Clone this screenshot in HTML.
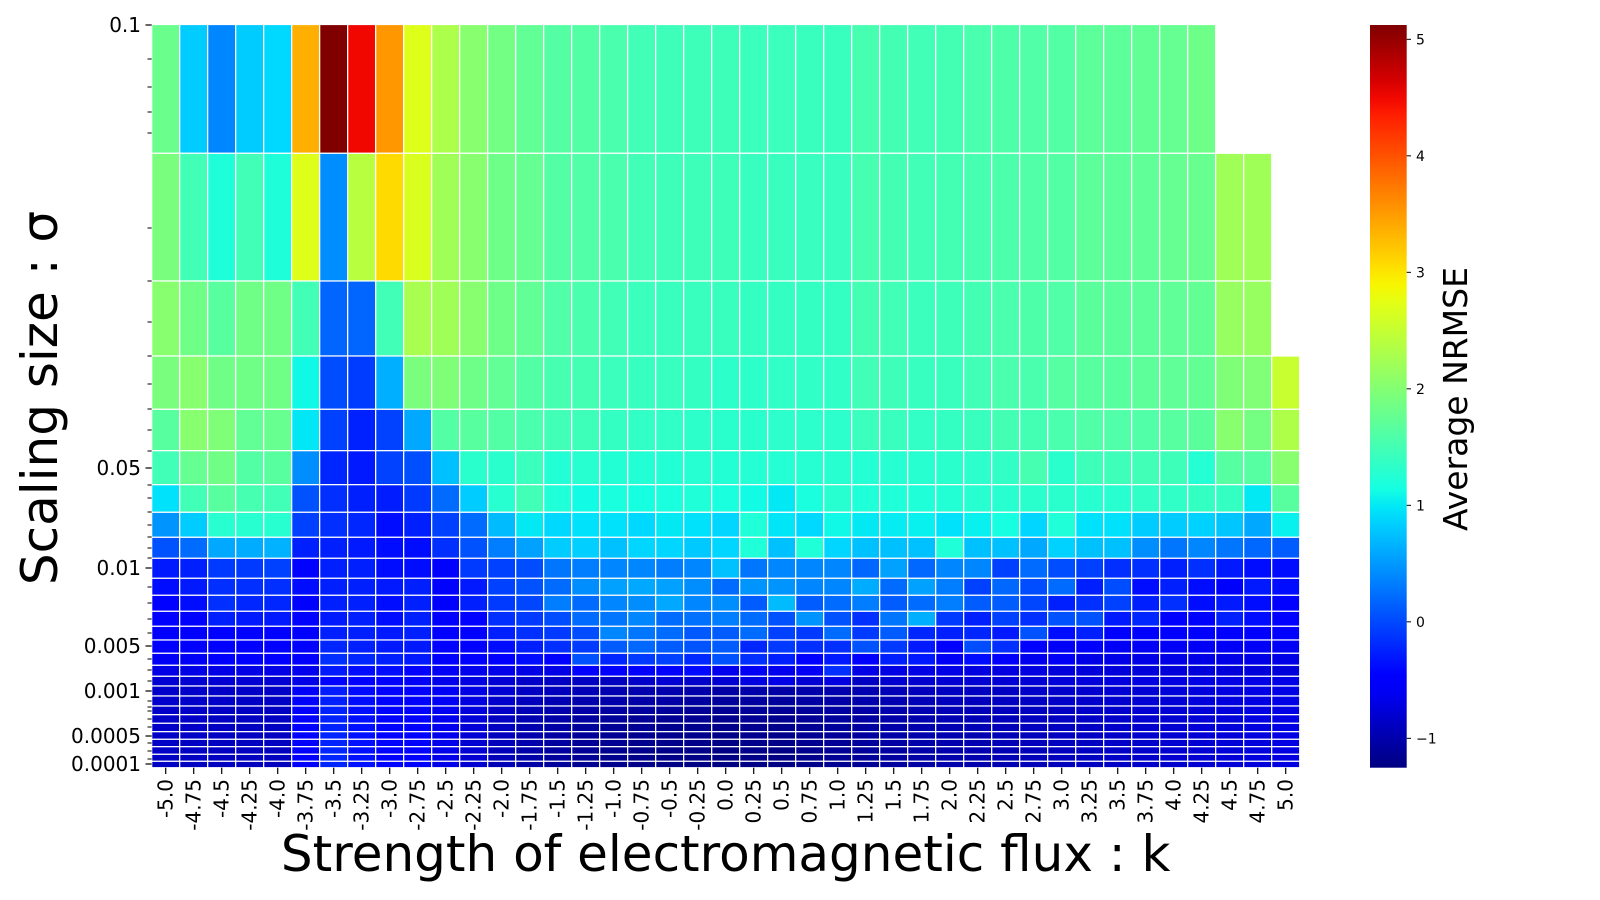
<!DOCTYPE html>
<html><head><meta charset="utf-8">
<style>
html,body{margin:0;padding:0;background:#fff;}
svg{display:block;font-family:"DejaVu Sans","Liberation Sans",sans-serif;}
</style></head>
<body>
<svg id="chart" width="1600" height="900" viewBox="0 0 1600 900" xmlns="http://www.w3.org/2000/svg">
<g id="cells"></g>
<g id="yaxis"></g>
<g id="xaxis"></g>
<defs><linearGradient id="jetgrad" x1="0" y1="1" x2="0" y2="0"></linearGradient></defs>
<rect x="1370" y="25" width="36.7" height="742.7" fill="url(#jetgrad)"/>
<g id="cbaxis"></g>
<text x="725.7" y="871" font-size="50" text-anchor="middle" fill="#000">Strength of electromagnetic flux : k</text>
<text transform="translate(57,398) rotate(-90)" font-size="50" text-anchor="middle" fill="#000">Scaling size : σ</text>
<text transform="translate(1467,399) rotate(-90)" font-size="33" text-anchor="middle" fill="#000">Average NRMSE</text>
</svg>
<script>
const kLabels = ["-5.0","-4.75","-4.5","-4.25","-4.0","-3.75","-3.5","-3.25","-3.0","-2.75","-2.5","-2.25","-2.0","-1.75","-1.5","-1.25","-1.0","-0.75","-0.5","-0.25","0.0","0.25","0.5","0.75","1.0","1.25","1.5","1.75","2.0","2.25","2.5","2.75","3.0","3.25","3.5","3.75","4.0","4.25","4.5","4.75","5.0"];
const sigmaTickLabels = ["0.1","0.05","0.01","0.005","0.001","0.0005","0.0001"];
const colorbarTicks = [-1,0,1,2,3,4,5];
const row0 = [1.8,0.82,0.38,0.82,0.9,3.37,5.13,4.5,3.52,2.7,2.31,2.03,1.87,1.73,1.63,1.62,1.55,1.48,1.46,1.46,1.45,1.43,1.43,1.42,1.42,1.53,1.5,1.48,1.5,1.55,1.58,1.6,1.62,1.7,1.7,1.74,1.76,1.83,null,null,null];
const row1 = [1.92,1.48,1.21,1.48,1.21,2.7,0.43,2.4,3.08,2.66,2.22,2.03,1.83,1.76,1.62,1.6,1.55,1.48,1.46,1.45,1.45,1.41,1.42,1.41,1.41,1.53,1.5,1.48,1.5,1.53,1.57,1.6,1.62,1.7,1.7,1.72,1.76,1.78,2.22,2.22,null];
const row2 = [2.03,1.85,1.66,1.85,1.85,1.48,0.18,0.18,1.48,2.28,2.22,2.03,1.83,1.73,1.6,1.55,1.48,1.43,1.42,1.42,1.42,1.38,1.38,1.38,1.38,1.5,1.48,1.43,1.45,1.5,1.55,1.58,1.6,1.68,1.68,1.7,1.72,1.74,2.15,2.15,null];
const row3 = [1.92,2.03,1.85,1.85,1.85,1.1,0.02,-0.08,0.64,1.92,1.96,1.83,1.73,1.62,1.53,1.5,1.43,1.4,1.4,1.38,1.33,1.33,1.35,1.35,1.35,1.48,1.45,1.4,1.42,1.48,1.55,1.55,1.64,1.66,1.66,1.7,1.72,1.74,1.96,1.98,2.52];
const row4 = [1.66,2.03,1.96,1.73,1.78,0.99,-0.05,-0.25,-0.04,0.6,1.62,1.66,1.62,1.55,1.48,1.45,1.38,1.36,1.35,1.33,1.3,1.3,1.32,1.32,1.32,1.43,1.42,1.36,1.38,1.42,1.5,1.5,1.55,1.6,1.6,1.6,1.65,1.68,2.03,1.88,2.33];
const row5 = [1.48,1.76,1.85,1.62,1.66,0.43,-0.22,-0.3,-0.04,0.04,0.75,1.3,1.3,1.43,1.25,1.28,1.25,1.25,1.25,1.27,1.25,1.26,1.26,1.27,1.28,1.26,1.27,1.28,1.3,1.32,1.36,1.53,1.3,1.45,1.45,1.48,1.45,1.26,1.64,1.64,2.03];
const row6 = [0.95,1.48,1.66,1.53,1.48,0.06,-0.16,-0.26,-0.28,-0.1,0.22,0.82,1.28,1.48,1.22,1.12,1.18,1.15,1.18,1.22,1.18,1.12,1.0,1.18,1.28,1.22,1.22,1.22,1.25,1.28,1.28,1.3,1.3,1.28,1.28,1.35,1.35,1.38,1.38,1.0,1.66];
const row7 = [0.47,0.82,1.28,1.28,1.28,-0.05,-0.16,-0.22,-0.38,-0.26,-0.05,0.22,0.72,1.0,0.9,0.95,0.95,0.9,1.0,0.95,0.88,1.22,0.98,0.9,1.1,1.0,1.02,1.05,0.95,1.05,1.15,0.88,1.22,0.95,0.95,0.82,0.82,0.86,0.78,0.6,1.05];
const row8 = [0.06,0.22,0.6,0.62,0.66,-0.26,-0.26,-0.3,-0.38,-0.38,-0.16,0.06,0.33,0.55,0.82,0.84,0.75,0.88,0.88,0.8,0.88,1.22,0.75,1.22,0.88,0.75,0.75,0.75,1.22,0.75,0.75,0.6,0.86,0.75,0.75,0.43,0.28,0.38,0.28,0.19,0.12];
const row9 = [-0.3,-0.26,-0.1,-0.1,-0.05,-0.45,-0.26,-0.26,-0.38,-0.38,-0.45,-0.1,-0.05,0.02,0.28,0.33,0.38,0.38,0.33,0.38,0.75,0.28,0.38,0.38,0.38,0.19,0.55,0.19,0.38,0.38,-0.05,0.22,0.02,-0.05,-0.16,-0.16,-0.26,-0.16,-0.3,-0.38,-0.38];
const row10 = [-0.38,-0.3,-0.16,-0.16,-0.16,-0.38,-0.26,-0.26,-0.3,-0.26,-0.45,-0.3,-0.05,0.06,0.22,0.43,0.55,0.6,0.55,0.43,0.22,0.47,0.47,0.38,0.38,0.62,0.22,0.55,0.33,-0.05,0.19,0.02,0.22,-0.26,0.02,-0.38,-0.26,-0.38,-0.5,-0.3,-0.38];
const row11 = [-0.45,-0.38,-0.16,-0.22,-0.22,-0.5,-0.26,-0.26,-0.38,-0.26,-0.5,-0.26,-0.1,-0.02,0.33,0.22,0.38,0.43,0.6,0.38,0.43,0.12,0.72,0.12,0.22,0.33,0.12,0.22,0.33,0.12,0.12,-0.02,-0.26,-0.16,-0.05,-0.26,-0.16,-0.38,-0.3,-0.38,-0.45];
const row12 = [-0.5,-0.45,-0.26,-0.3,-0.3,-0.45,-0.3,-0.26,-0.38,-0.26,-0.5,-0.45,-0.16,-0.1,0.02,0.22,0.28,0.38,0.22,0.25,0.33,0.22,0.06,0.47,0.06,-0.16,0.28,0.64,-0.1,-0.26,-0.05,-0.16,0.06,0.06,-0.3,-0.22,-0.5,-0.5,-0.26,-0.38,-0.45];
const row13 = [-0.5,-0.5,-0.45,-0.45,-0.45,-0.5,-0.26,-0.26,-0.3,-0.26,-0.45,-0.45,-0.26,-0.16,-0.1,0.02,0.38,0.28,0.22,0.1,0.12,0.22,-0.05,-0.1,0.22,-0.1,0.12,-0.22,-0.26,-0.22,-0.3,0.06,-0.38,-0.26,-0.5,-0.5,-0.5,-0.5,-0.5,-0.5,-0.45];
const row14 = [-0.5,-0.5,-0.5,-0.5,-0.5,-0.5,-0.22,-0.26,-0.3,-0.3,-0.45,-0.5,-0.38,-0.26,-0.16,-0.1,0.12,0.19,0.12,0.07,0.12,-0.22,-0.1,-0.16,-0.16,0.06,-0.1,-0.3,-0.5,0.02,-0.16,-0.5,-0.6,-0.55,-0.6,-0.6,-0.6,-0.6,-0.6,-0.6,-0.6];
const row15 = [-0.6,-0.6,-0.5,-0.5,-0.5,-0.55,-0.16,-0.22,-0.26,-0.3,-0.5,-0.5,-0.5,-0.38,-0.45,0.06,-0.22,-0.1,-0.05,-0.2,0.06,-0.16,-0.26,-0.45,-0.3,-0.5,-0.26,-0.3,-0.6,-0.38,-0.5,-0.64,-0.6,-0.68,-0.68,-0.68,-0.68,-0.68,-0.68,-0.68,-0.68];
const row16 = [-0.68,-0.68,-0.68,-0.68,-0.68,-0.64,-0.3,-0.38,-0.38,-0.45,-0.6,-0.64,-0.66,-0.68,-0.68,-0.5,-0.5,-0.5,-0.55,-0.4,-0.64,-0.6,-0.64,-0.6,-0.16,-0.68,-0.7,-0.68,-0.68,-0.72,-0.72,-0.72,-0.75,-0.75,-0.75,-0.75,-0.75,-0.75,-0.75,-0.75,-0.75];
const row17 = [-0.8,-0.8,-0.8,-0.8,-0.8,-0.68,-0.45,-0.5,-0.5,-0.6,-0.66,-0.72,-0.8,-0.85,-0.88,-0.88,-0.91,-0.85,-0.8,-0.85,-0.8,-0.72,-0.68,-0.8,-0.72,-0.88,-0.82,-0.82,-0.8,-0.8,-0.78,-0.78,-0.76,-0.75,-0.74,-0.72,-0.72,-0.7,-0.7,-0.68,-0.68];
const row18 = [-0.84,-0.84,-0.86,-0.86,-0.86,-0.58,-0.28,-0.4,-0.45,-0.5,-0.6,-0.7,-0.8,-0.88,-0.92,-0.95,-0.98,-1.0,-1.0,-1.02,-1.05,-1.02,-1.05,-1.02,-1.0,-0.98,-0.95,-0.92,-0.9,-0.9,-0.88,-0.85,-0.84,-0.82,-0.8,-0.78,-0.76,-0.74,-0.72,-0.7,-0.68];
const row19 = [-0.84,-0.85,-0.86,-0.87,-0.87,-0.56,-0.26,-0.38,-0.44,-0.5,-0.6,-0.72,-0.84,-0.92,-0.97,-1.0,-1.02,-1.05,-1.05,-1.08,-1.1,-1.08,-1.1,-1.06,-1.04,-1.02,-0.98,-0.95,-0.92,-0.92,-0.9,-0.88,-0.86,-0.84,-0.82,-0.8,-0.78,-0.75,-0.73,-0.71,-0.69];
const row20 = [-0.85,-0.85,-0.87,-0.88,-0.88,-0.55,-0.25,-0.38,-0.44,-0.52,-0.62,-0.74,-0.86,-0.95,-1.0,-1.04,-1.06,-1.08,-1.1,-1.12,-1.14,-1.1,-1.12,-1.1,-1.06,-1.04,-1.0,-0.97,-0.95,-0.94,-0.92,-0.9,-0.88,-0.85,-0.83,-0.8,-0.78,-0.76,-0.74,-0.72,-0.7];
const row21 = [-0.85,-0.86,-0.88,-0.88,-0.88,-0.55,-0.24,-0.37,-0.44,-0.52,-0.63,-0.76,-0.88,-0.97,-1.03,-1.07,-1.1,-1.12,-1.14,-1.15,-1.17,-1.14,-1.16,-1.12,-1.08,-1.06,-1.02,-0.99,-0.96,-0.95,-0.93,-0.9,-0.88,-0.86,-0.84,-0.81,-0.79,-0.77,-0.75,-0.72,-0.7];
const row22 = [-0.85,-0.86,-0.88,-0.89,-0.89,-0.54,-0.24,-0.37,-0.44,-0.53,-0.64,-0.77,-0.9,-0.99,-1.05,-1.1,-1.12,-1.14,-1.16,-1.17,-1.19,-1.16,-1.18,-1.14,-1.1,-1.07,-1.03,-1.0,-0.97,-0.96,-0.94,-0.91,-0.89,-0.87,-0.84,-0.82,-0.8,-0.77,-0.75,-0.73,-0.7];
const row23 = [-0.86,-0.86,-0.88,-0.89,-0.9,-0.54,-0.23,-0.36,-0.44,-0.53,-0.65,-0.78,-0.91,-1.0,-1.06,-1.11,-1.14,-1.16,-1.17,-1.18,-1.2,-1.17,-1.19,-1.15,-1.11,-1.08,-1.04,-1.01,-0.98,-0.97,-0.95,-0.92,-0.9,-0.87,-0.85,-0.82,-0.8,-0.78,-0.76,-0.73,-0.71];
const row24 = [-0.86,-0.87,-0.89,-0.9,-0.9,-0.54,-0.23,-0.36,-0.44,-0.54,-0.66,-0.79,-0.92,-1.01,-1.07,-1.12,-1.15,-1.17,-1.18,-1.19,-1.21,-1.18,-1.2,-1.16,-1.12,-1.09,-1.05,-1.02,-0.99,-0.98,-0.95,-0.92,-0.9,-0.88,-0.85,-0.83,-0.8,-0.78,-0.76,-0.74,-0.71];
const row25 = [-0.86,-0.87,-0.89,-0.9,-0.91,-0.53,-0.22,-0.36,-0.44,-0.54,-0.66,-0.8,-0.93,-1.02,-1.08,-1.13,-1.16,-1.18,-1.19,-1.2,-1.22,-1.19,-1.21,-1.17,-1.13,-1.1,-1.06,-1.03,-1.0,-0.98,-0.96,-0.93,-0.91,-0.88,-0.86,-0.83,-0.81,-0.79,-0.76,-0.74,-0.72];
const row26 = [-0.87,-0.87,-0.9,-0.9,-0.91,-0.53,-0.22,-0.35,-0.44,-0.55,-0.67,-0.8,-0.94,-1.03,-1.09,-1.14,-1.17,-1.19,-1.2,-1.21,-1.23,-1.2,-1.22,-1.18,-1.14,-1.11,-1.07,-1.04,-1.0,-0.99,-0.96,-0.93,-0.91,-0.89,-0.86,-0.84,-0.81,-0.79,-0.77,-0.74,-0.72];
const row27 = [-0.87,-0.88,-0.9,-0.91,-0.91,-0.53,-0.22,-0.35,-0.44,-0.55,-0.67,-0.81,-0.95,-1.04,-1.1,-1.15,-1.18,-1.2,-1.21,-1.22,-1.24,-1.21,-1.23,-1.19,-1.15,-1.12,-1.08,-1.05,-1.01,-1.0,-0.97,-0.94,-0.92,-0.89,-0.87,-0.84,-0.82,-0.8,-0.77,-0.75,-0.72];
const nrmse = [row0,row1,row2,row3,row4,row5,row6,row7,row8,row9,row10,row11,row12,row13,row14,row15,row16,row17,row18,row19,row20,row21,row22,row23,row24,row25,row26,row27];

// layout (not data)
const X0 = 151.7, CW = 28;
const rowEdges = [24.5,153.3,281,356,409.3,450.7,484.7,512.3,537.3,558.3,578.3,595.3,611.3,626.3,640,653.3,665.3,676.3,686,696,706,714.7,723.3,731.7,739.3,746.7,754.3,761.3,767.7];
const sigmaTickY = [25,468,568,646,691,736,764];
const minorTickY = [59,87,112,133,228,281,322,356,384,409,430,451,485,498,512,525,537,548,558,587,603,619,633,659,670,681,701,707,711,719,727,743,751,759];
const VMIN = -1.252, VMAX = 5.123, CB_TOP = 25, CB_BOT = 767.7;
const NS = "http://www.w3.org/2000/svg";

function xScale(i){ return X0 + i*CW; }
function cbScale(v){ return CB_BOT - (v - VMIN)/(VMAX - VMIN)*(CB_BOT - CB_TOP); }
function interp(pts,t){
  for(let i=0;i<pts.length-1;i++){
    const a=pts[i], b=pts[i+1];
    if(t>=a[0] && t<=b[0]) return a[1] + (b[1]-a[1])*(t-a[0])/(b[0]-a[0]);
  }
  return t<pts[0][0]?pts[0][1]:pts[pts.length-1][1];
}
function jet(v){
  let t=(v-VMIN)/(VMAX-VMIN); t=Math.max(0,Math.min(1,t));
  const r=interp([[0,0],[0.35,0],[0.66,1],[0.89,1],[1,0.5]],t);
  const g=interp([[0,0],[0.125,0],[0.375,1],[0.64,1],[0.91,0],[1,0]],t);
  const b=interp([[0,0.5],[0.11,1],[0.34,1],[0.65,0],[1,0]],t);
  return "rgb("+Math.round(r*255)+","+Math.round(g*255)+","+Math.round(b*255)+")";
}
function mk(tag, attrs, parent){
  const e=document.createElementNS(NS,tag);
  for(const k in attrs) e.setAttribute(k,attrs[k]);
  parent.appendChild(e); return e;
}

const cells=document.getElementById("cells");
nrmse.forEach((row,ri)=>{
  row.forEach((v,ci)=>{
    if(v===null) return;
    const r=mk("rect",{x:xScale(ci),y:rowEdges[ri],width:CW,height:rowEdges[ri+1]-rowEdges[ri],fill:jet(v),stroke:"#fff","stroke-width":1.2},cells);
    
    
  });
});

const yax=document.getElementById("yaxis");
sigmaTickLabels.forEach((lab,i)=>{
  const y=sigmaTickY[i];
  const t=mk("line",{x1:145.5,x2:151.7,y1:y,y2:y,stroke:"#000","stroke-width":1.2},yax);
  
  
  const tx=mk("text",{x:141,y:y+7,"font-size":20,"text-anchor":"end",fill:"#000"},yax);
  tx.textContent=lab;
  
  
});
minorTickY.forEach(y=>{
  const t=mk("line",{x1:147.5,x2:151.7,y1:y,y2:y,stroke:"#000","stroke-width":1},yax);
  
  
});

const xax=document.getElementById("xaxis");
kLabels.forEach((lab,i)=>{
  const x=xScale(i)+CW/2;
  const t=mk("line",{x1:x,x2:x,y1:767.7,y2:774,stroke:"#000","stroke-width":1.2},xax);
  
  
  const tx=mk("text",{transform:"translate("+(x+7)+",779) rotate(-90)","font-size":20,"text-anchor":"end",fill:"#000"},xax);
  tx.textContent=lab;
  
  
});

const grad=document.getElementById("jetgrad");
for(let i=0;i<=40;i++){
  const v=VMIN+(VMAX-VMIN)*i/40;
  mk("stop",{offset:(i/40*100)+"%","stop-color":jet(v)},grad);
}
const cb=document.getElementById("cbaxis");
colorbarTicks.forEach(v=>{
  const y=cbScale(v);
  const t=mk("line",{x1:1406.7,x2:1411,y1:y,y2:y,stroke:"#000","stroke-width":1},cb);
  
  
  const tx=mk("text",{x:1416,y:y+5,"font-size":14,fill:"#000"},cb);
  tx.textContent=v<0?"\u2212"+Math.abs(v):String(v);
  
  
});
</script>
</body></html>
